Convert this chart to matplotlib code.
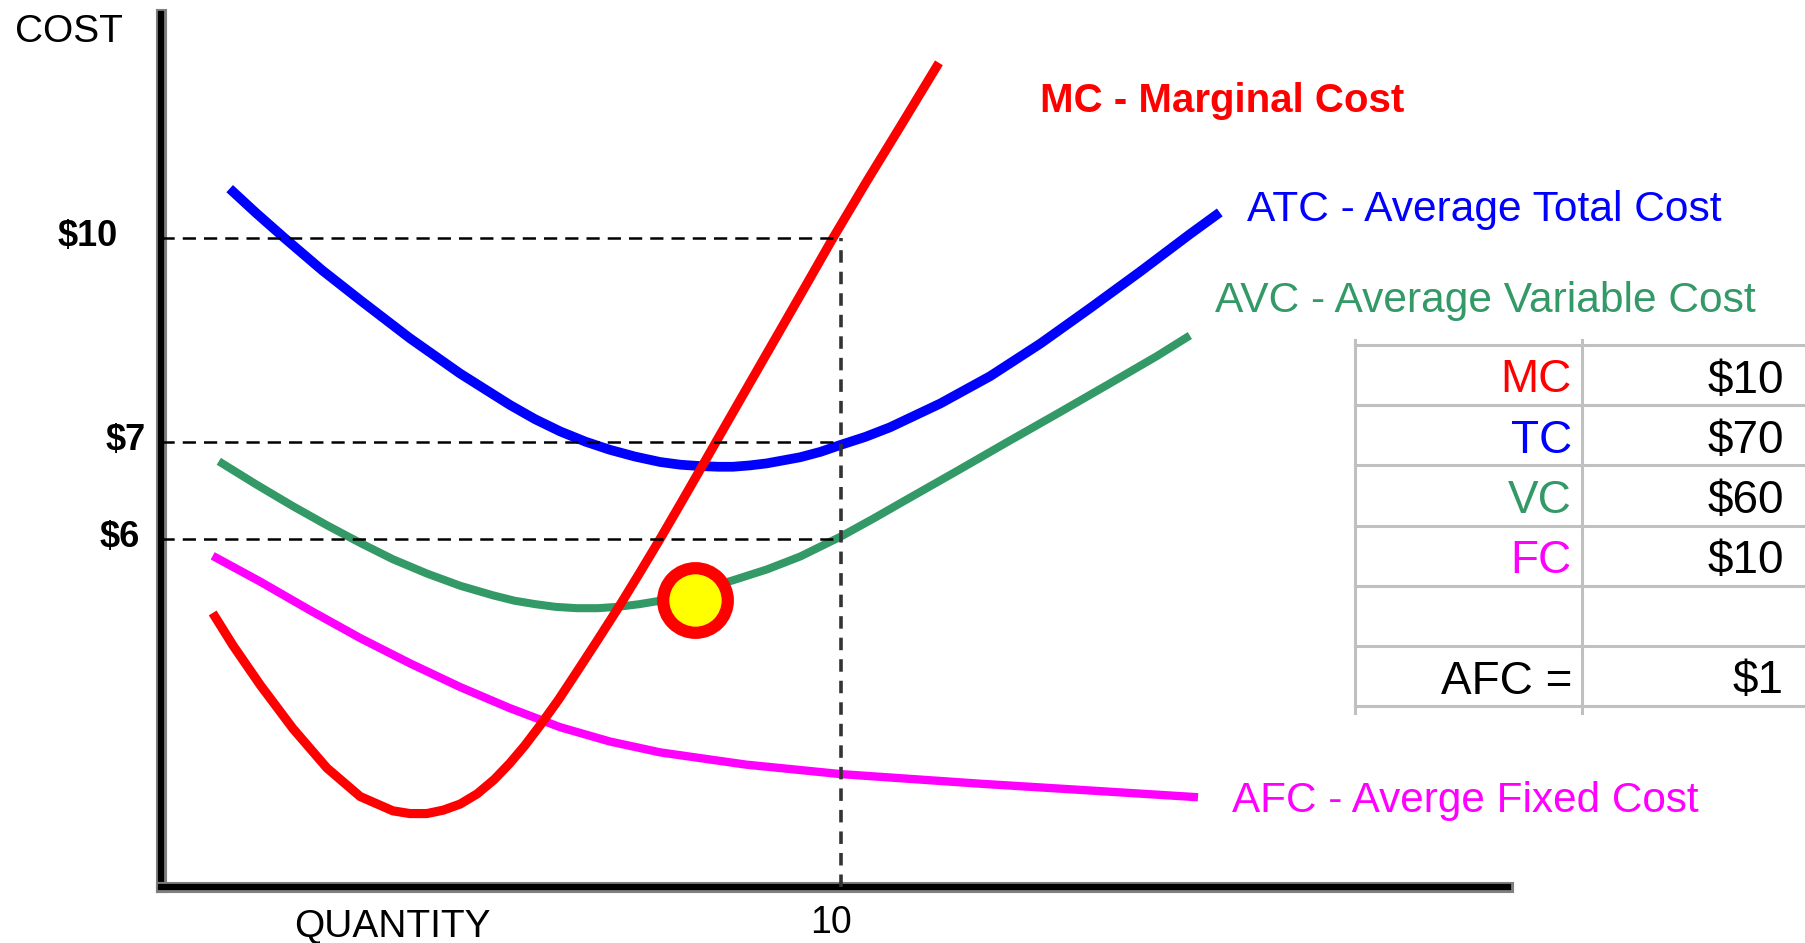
import matplotlib.pyplot as plt
from matplotlib import patheffects

plt.rcParams['font.family'] = ['Liberation Sans', 'DejaVu Sans']
plt.rcParams['lines.scale_dashes'] = False

# x = quantity, y = cost height in chart units (the sketch is not drawn to scale)
mc_q = [0.76, 1.06, 1.46, 1.94, 2.44, 2.93, 3.41, 3.66, 3.91, 4.15, 4.40, 4.65,
        4.90, 5.13, 5.35, 5.57, 5.85, 6.12, 6.42, 6.74, 7.04, 7.34, 7.66, 7.97,
        8.40, 8.90, 9.40, 9.88, 10.38, 10.87, 11.44]
mc_c = [4.03, 3.55, 2.97, 2.33, 1.75, 1.33, 1.12, 1.08, 1.08, 1.13, 1.22, 1.37,
        1.58, 1.82, 2.08, 2.37, 2.76, 3.17, 3.63, 4.13, 4.62, 5.12, 5.67, 6.21,
        6.96, 7.83, 8.70, 9.54, 10.38, 11.18, 12.12]

atc_q = [1.01, 1.40, 1.82, 2.37, 2.93, 3.66, 4.40, 5.13, 5.50, 5.87, 6.24, 6.60,
         6.97, 7.34, 7.64, 7.93, 8.20, 8.41, 8.66, 8.91, 9.40, 9.70, 9.99, 10.36,
         10.72, 11.46, 12.19, 12.93, 13.66, 14.40, 15.13, 15.57]
atc_c = [10.27, 9.91, 9.54, 9.07, 8.63, 8.07, 7.55, 7.09, 6.88, 6.70, 6.55, 6.43,
         6.33, 6.25, 6.21, 6.19, 6.18, 6.18, 6.20, 6.23, 6.32, 6.40, 6.50, 6.62,
         6.76, 7.11, 7.51, 7.99, 8.51, 9.05, 9.60, 9.92]

avc_q = [0.85, 1.40, 1.94, 2.44, 2.93, 3.41, 3.91, 4.40, 4.88, 5.20, 5.50, 5.80,
         6.12, 6.42, 6.72, 7.04, 7.34, 7.62, 7.90, 8.41, 8.91, 9.40, 9.99, 10.48,
         10.97, 11.71, 12.44, 13.18, 13.91, 14.65, 15.13]
avc_c = [6.26, 5.92, 5.60, 5.32, 5.06, 4.82, 4.61, 4.43, 4.29, 4.21, 4.16, 4.12,
         4.10, 4.10, 4.12, 4.16, 4.21, 4.28, 4.36, 4.51, 4.67, 4.86, 5.15, 5.42,
         5.70, 6.12, 6.54, 6.96, 7.38, 7.81, 8.11]

afc_q = [0.76, 1.46, 2.19, 2.93, 3.66, 4.40, 5.13, 5.87, 6.60, 7.34, 8.60, 10.0,
         12.03, 13.81, 15.25]
afc_c = [4.87, 4.49, 4.07, 3.66, 3.29, 2.94, 2.63, 2.35, 2.14, 1.98, 1.80, 1.66,
         1.52, 1.41, 1.32]

cost_levels = [9.54, 6.54, 5.12]
cost_labels = ['$10', '$7', '$6']
q_mark = 10
q_label = '10'
dot_q, dot_c = 7.85, 4.22

curve_names = ['MC - Marginal Cost', 'ATC - Average Total Cost',
               'AVC - Average Variable Cost', 'AFC - Averge Fixed Cost']
table_names = ['MC', 'TC', 'VC', 'FC', '', 'AFC =']
table_values = ['$10', '$70', '$60', '$10', '', '$1']

RED, BLUE, GREEN, PINK = '#ff0000', '#0000ff', '#339966', '#ff00ff'
table_colors = [RED, BLUE, GREEN, PINK, 'black', 'black']

W, H = 1806, 943
UNIT = 68.0  # pixels per chart unit


def fx(px):
    return px / W


def fy(py):
    return 1 - py / H


fig = plt.figure(figsize=(W / 100, H / 100), dpi=100)
ax = fig.add_axes([fx(161), fy(887), 1347 / W, 873 / H])
ax.set_xlim(0, 1347 / UNIT)
ax.set_ylim(0, 873 / UNIT)
ax.set_xticks([])
ax.set_yticks([])
for side in ['top', 'right']:
    ax.spines[side].set_visible(False)
for side in ['left', 'bottom']:
    sp = ax.spines[side]
    sp.set_linewidth(4.5)
    sp.set_color('black')
    sp.set_path_effects([patheffects.Stroke(linewidth=8, foreground='#808080'),
                         patheffects.Normal()])

kw = dict(solid_capstyle='butt', solid_joinstyle='round')
ax.plot(afc_q, afc_c, color=PINK, lw=6.0, **kw)
ax.plot(avc_q, avc_c, color=GREEN, lw=5.8, **kw)
ax.plot(atc_q, atc_c, color=BLUE, lw=7.0, **kw)
ax.plot(mc_q, mc_c, color=RED, lw=6.6, **kw)

# guide lines
for lvl in cost_levels:
    ax.plot([0, q_mark], [lvl, lvl], color='black', lw=1.8, dashes=(9.5, 5.8), zorder=4)
ax.plot([q_mark, q_mark], [0, cost_levels[0]], color='#333333', lw=2.6,
        dashes=(9, 6.5), zorder=4)

ax.plot([dot_q], [dot_c], marker='o', ms=46.5, mew=8.8, mfc='#ffff00', mec=RED, zorder=6)

# axis labels
label_x = [-0.63, -0.22, -0.31]
for lvl, lab, lx in zip(cost_levels, cost_labels, label_x):
    ax.text(lx, lvl - 0.12, lab, ha='right', va='baseline', fontsize=26,
            fontweight='bold', clip_on=False)
ax.text(q_mark - 0.15, -0.68, q_label, ha='center', va='baseline', fontsize=27)
ax.text(3.40, -0.74, 'QUANTITY', ha='center', va='baseline', fontsize=28)
fig.text(fx(15), fy(42), 'COST', ha='left', va='baseline', fontsize=28)

# curve names
name_pos = [(1040, 112), (1247, 221), (1215, 312), (1232, 812)]
name_size = [29, 30.6, 30.6, 30.4]
name_weight = ['bold', 'normal', 'normal', 'normal']
for name, col, (px, py), fs, fw in zip(curve_names, [RED, BLUE, GREEN, PINK],
                                       name_pos, name_size, name_weight):
    fig.text(fx(px), fy(py), name, color=col, fontsize=fs, fontweight=fw,
             ha='left', va='baseline')

# small table at the right
top, row_h = 345, 60.2
x0, x1, x2 = 1355, 1582, 1806
grid = dict(color='#c0c0c0', lw=2.2, transform=fig.transFigure, clip_on=False)
for i in range(len(table_names) + 1):
    y = fy(top + i * row_h)
    fig.add_artist(plt.Line2D([fx(x0), fx(x2)], [y, y], **grid))
for x in [x0, x1]:
    fig.add_artist(plt.Line2D([fx(x), fx(x)], [fy(top - 5), fy(top + 6 * row_h + 7)], **grid))
for i, (nm, val, col) in enumerate(zip(table_names, table_values, table_colors)):
    base = fy(top + i * row_h + 47.5)
    fig.text(fx(1572), base, nm, color=col, fontsize=33, ha='right', va='baseline')
    fig.text(fx(1784), base, val, color='black', fontsize=33, ha='right', va='baseline')

fig.savefig('out.png', dpi=100, facecolor='white')
